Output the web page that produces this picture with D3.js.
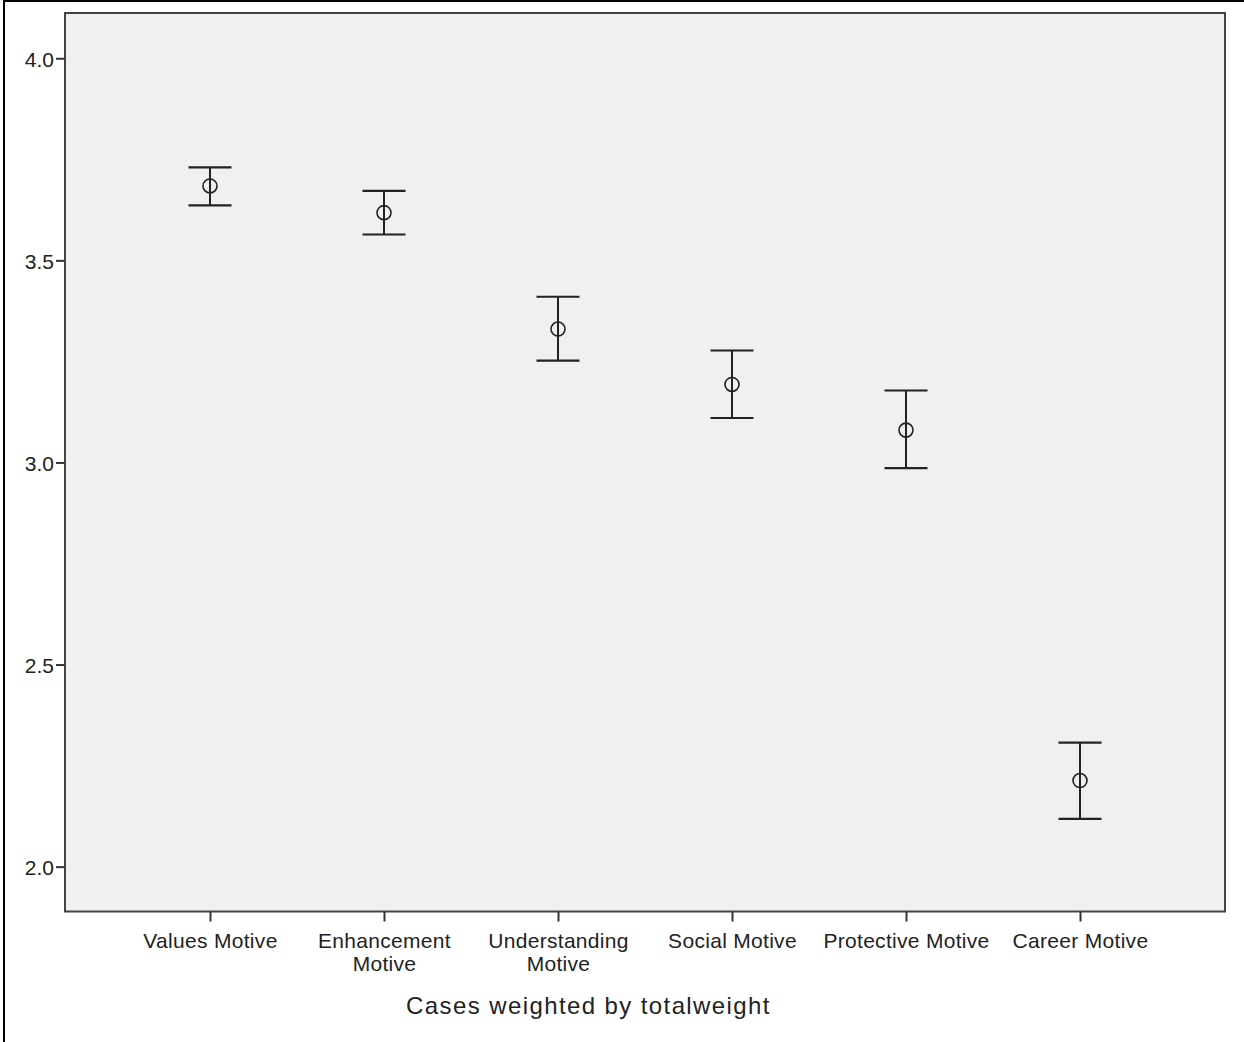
<!DOCTYPE html>
<html><head><meta charset="utf-8">
<script src="https://cdn.jsdelivr.net/npm/d3@7"></script>
<style>
body{margin:0;background:#fff;}
svg{display:block;}
text{font-family:"Liberation Sans",Arial,sans-serif;fill:#222;}
</style></head>
<body>
<svg id="c" width="1244" height="1042"></svg>
<script>
const categories = ["Values Motive","Enhancement\nMotive","Understanding\nMotive","Social Motive","Protective Motive","Career Motive"];
const means = [3.684,3.618,3.330,3.193,3.080,2.213];
const upper = [3.730,3.672,3.410,3.277,3.178,2.307];
const lower = [3.636,3.564,3.252,3.110,2.986,2.118];
const yTicks = [2.0,2.5,3.0,3.5,4.0];
const footnote = "Cases weighted by totalweight";

const svg = d3.select("#c");
const L=65, R=1225, T=13, B=911.5;

// outer border (left + top)
svg.append("path").attr("d","M4,1044 L4,1 L1246,1").attr("fill","none").attr("stroke","#000").attr("stroke-width",2);

const y = d3.scaleLinear().domain([1.889,4.112]).range([B,T]);
const x = d3.scalePoint().domain(categories).range([L,R]).padding(0.8333);

svg.append("rect").attr("x",L).attr("y",T).attr("width",R-L).attr("height",B-T)
  .attr("fill","#f0f0f0").attr("stroke","#444").attr("stroke-width",2);

// y axis
const ya = svg.append("g").attr("transform",`translate(${L},0)`)
  .call(d3.axisLeft(y).tickValues(yTicks).tickFormat(d3.format(".1f")).tickSize(9).tickPadding(2));
ya.select(".domain").remove();
ya.selectAll(".tick line").attr("stroke","#333").attr("stroke-width",2);
ya.selectAll(".tick text").attr("font-size",21).attr("fill","#222").attr("dy","0.38em").style("font-family","Liberation Sans, Arial, sans-serif");

// x axis
const xa = svg.append("g").attr("transform",`translate(0,${B})`)
  .call(d3.axisBottom(x).tickSize(10).tickFormat(""));
xa.select(".domain").remove();
xa.selectAll(".tick line").attr("stroke","#333").attr("stroke-width",2);
xa.selectAll(".tick").each(function(d){
  const lines = d.split("\n");
  const t = d3.select(this).append("text").attr("text-anchor","middle").attr("font-size",21)
    .attr("fill","#222").style("letter-spacing","0.3px");
  lines.forEach((ln,i)=>t.append("tspan").attr("x",0).attr("y",36+i*23).text(ln));
});

// error bars
const g = svg.append("g");
const data = categories.map((c,i)=>({c,m:means[i],u:upper[i],l:lower[i]}));
const cap = 21.5;
data.forEach(d=>{
  const cx = x(d.c);
  g.append("line").attr("x1",cx).attr("x2",cx).attr("y1",y(d.u)).attr("y2",y(d.l)).attr("stroke","#222").attr("stroke-width",2);
  g.append("line").attr("x1",cx-cap).attr("x2",cx+cap).attr("y1",y(d.u)).attr("y2",y(d.u)).attr("stroke","#222").attr("stroke-width",2.2);
  g.append("line").attr("x1",cx-cap).attr("x2",cx+cap).attr("y1",y(d.l)).attr("y2",y(d.l)).attr("stroke","#222").attr("stroke-width",2.2);
  g.append("circle").attr("cx",cx).attr("cy",y(d.m)).attr("r",7).attr("fill","none").attr("stroke","#222").attr("stroke-width",1.6);
});

svg.append("text").attr("x",588.5).attr("y",1014).attr("text-anchor","middle").attr("font-size",24)
  .style("letter-spacing","1.4px").text(footnote);
</script>
</body></html>
